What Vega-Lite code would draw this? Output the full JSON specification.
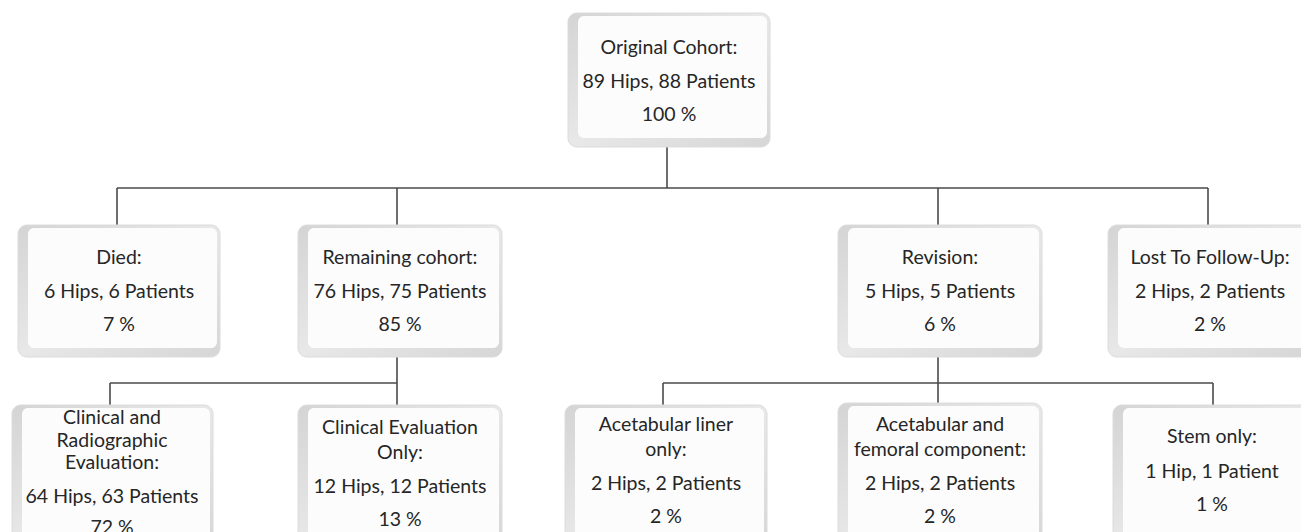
{
  "$schema": "https://vega.github.io/schema/vega-lite/v6.json",
  "autosize": {"type": "fit", "contains": "padding"},
  "width": 1301,
  "height": 532,
  "padding": 0,
  "background": "white",
  "config": {"view": {"stroke": null}},
  "datasets": {
    "boxes": [
      {"id": "top", "x1": 568, "x2": 770, "y1": 13, "y2": 147},
      {"id": "died", "x1": 18, "x2": 220, "y1": 225, "y2": 357},
      {"id": "remain", "x1": 298, "x2": 502, "y1": 225, "y2": 357},
      {"id": "revision", "x1": 838, "x2": 1042, "y1": 225, "y2": 357},
      {"id": "lost", "x1": 1108, "x2": 1312, "y1": 225, "y2": 357},
      {"id": "clinrad", "x1": 12, "x2": 213, "y1": 405, "y2": 548},
      {"id": "clinonly", "x1": 298, "x2": 502, "y1": 405, "y2": 548},
      {"id": "liner", "x1": 565, "x2": 767, "y1": 405, "y2": 548},
      {"id": "femoral", "x1": 838, "x2": 1042, "y1": 403, "y2": 548},
      {"id": "stem", "x1": 1113, "x2": 1317, "y1": 405, "y2": 548}
    ],
    "lines": [
      {"x1": 667, "x2": 667, "y1": 147, "y2": 188},
      {"x1": 117, "x2": 1208, "y1": 188, "y2": 188},
      {"x1": 117, "x2": 117, "y1": 188, "y2": 225},
      {"x1": 397, "x2": 397, "y1": 188, "y2": 225},
      {"x1": 938, "x2": 938, "y1": 188, "y2": 225},
      {"x1": 1208, "x2": 1208, "y1": 188, "y2": 225},
      {"x1": 397, "x2": 397, "y1": 357, "y2": 405},
      {"x1": 110, "x2": 397, "y1": 383, "y2": 383},
      {"x1": 110, "x2": 110, "y1": 383, "y2": 405},
      {"x1": 938, "x2": 938, "y1": 357, "y2": 403},
      {"x1": 663, "x2": 1213, "y1": 383, "y2": 383},
      {"x1": 663, "x2": 663, "y1": 383, "y2": 405},
      {"x1": 1213, "x2": 1213, "y1": 383, "y2": 405}
    ],
    "labels": [
      {"x": 669, "y": 48, "t": "Original Cohort:"},
      {"x": 669, "y": 82, "t": "89 Hips, 88 Patients"},
      {"x": 669, "y": 115, "t": "100 %"},
      {"x": 119, "y": 258, "t": "Died:"},
      {"x": 119, "y": 292, "t": "6 Hips, 6 Patients"},
      {"x": 119, "y": 325, "t": "7 %"},
      {"x": 400, "y": 258, "t": "Remaining cohort:"},
      {"x": 400, "y": 292, "t": "76 Hips, 75 Patients"},
      {"x": 400, "y": 325, "t": "85 %"},
      {"x": 940, "y": 258, "t": "Revision:"},
      {"x": 940, "y": 292, "t": "5 Hips, 5 Patients"},
      {"x": 940, "y": 325, "t": "6 %"},
      {"x": 1210, "y": 258, "t": "Lost To Follow-Up:"},
      {"x": 1210, "y": 292, "t": "2 Hips, 2 Patients"},
      {"x": 1210, "y": 325, "t": "2 %"},
      {"x": 112, "y": 418, "t": "Clinical and"},
      {"x": 112, "y": 441, "t": "Radiographic"},
      {"x": 112, "y": 463, "t": "Evaluation:"},
      {"x": 112, "y": 497, "t": "64 Hips, 63 Patients"},
      {"x": 112, "y": 528, "t": "72 %"},
      {"x": 400, "y": 428, "t": "Clinical Evaluation"},
      {"x": 400, "y": 453, "t": "Only:"},
      {"x": 400, "y": 487, "t": "12 Hips, 12 Patients"},
      {"x": 400, "y": 520, "t": "13 %"},
      {"x": 666, "y": 425, "t": "Acetabular liner"},
      {"x": 666, "y": 450, "t": "only:"},
      {"x": 666, "y": 484, "t": "2 Hips, 2 Patients"},
      {"x": 666, "y": 517, "t": "2 %"},
      {"x": 940, "y": 425, "t": "Acetabular and"},
      {"x": 940, "y": 450, "t": "femoral component:"},
      {"x": 940, "y": 484, "t": "2 Hips, 2 Patients"},
      {"x": 940, "y": 517, "t": "2 %"},
      {"x": 1212, "y": 437, "t": "Stem only:"},
      {"x": 1212, "y": 472, "t": "1 Hip, 1 Patient"},
      {"x": 1212, "y": 505, "t": "1 %"}
    ]
  },
  "layer": [
    {
      "data": {"name": "lines"},
      "mark": {"type": "rule", "color": "#4a4a4a", "strokeWidth": 1.6},
      "encoding": {
        "x": {"field": "x1", "type": "quantitative", "scale": {"domain": [0, 1301], "nice": false, "zero": false}, "axis": null},
        "x2": {"field": "x2"},
        "y": {"field": "y1", "type": "quantitative", "scale": {"domain": [0, 532], "nice": false, "zero": false, "reverse": true}, "axis": null},
        "y2": {"field": "y2"}
      }
    },
    {
      "data": {"name": "boxes"},
      "mark": {
        "type": "rect", "clip": true, "cornerRadius": 9, "stroke": "#dcdcdc", "strokeWidth": 1,
        "fill": {"gradient": "linear", "x1": 0, "y1": 0, "x2": 1, "y2": 1,
          "stops": [{"offset": 0, "color": "#d4d4d4"}, {"offset": 0.5, "color": "#e8e8e8"}, {"offset": 1, "color": "#d6d6d6"}]}
      },
      "encoding": {
        "x": {"field": "x1", "type": "quantitative"},
        "x2": {"field": "x2"},
        "y": {"field": "y1", "type": "quantitative"},
        "y2": {"field": "y2"}
      }
    },
    {
      "data": {"name": "boxes"},
      "mark": {
        "type": "rect", "clip": true, "cornerRadius": 6, "fill": "#fcfcfc",
        "xOffset": 10, "x2Offset": -3, "yOffset": 3, "y2Offset": -9
      },
      "encoding": {
        "x": {"field": "x1", "type": "quantitative"},
        "x2": {"field": "x2"},
        "y": {"field": "y1", "type": "quantitative"},
        "y2": {"field": "y2"}
      }
    },
    {
      "data": {"name": "labels"},
      "mark": {"type": "text", "font": "Lato", "fontSize": 19.5, "color": "#262626", "align": "center", "baseline": "middle", "clip": true},
      "encoding": {
        "x": {"field": "x", "type": "quantitative"},
        "y": {"field": "y", "type": "quantitative"},
        "text": {"field": "t"}
      }
    }
  ]
}
